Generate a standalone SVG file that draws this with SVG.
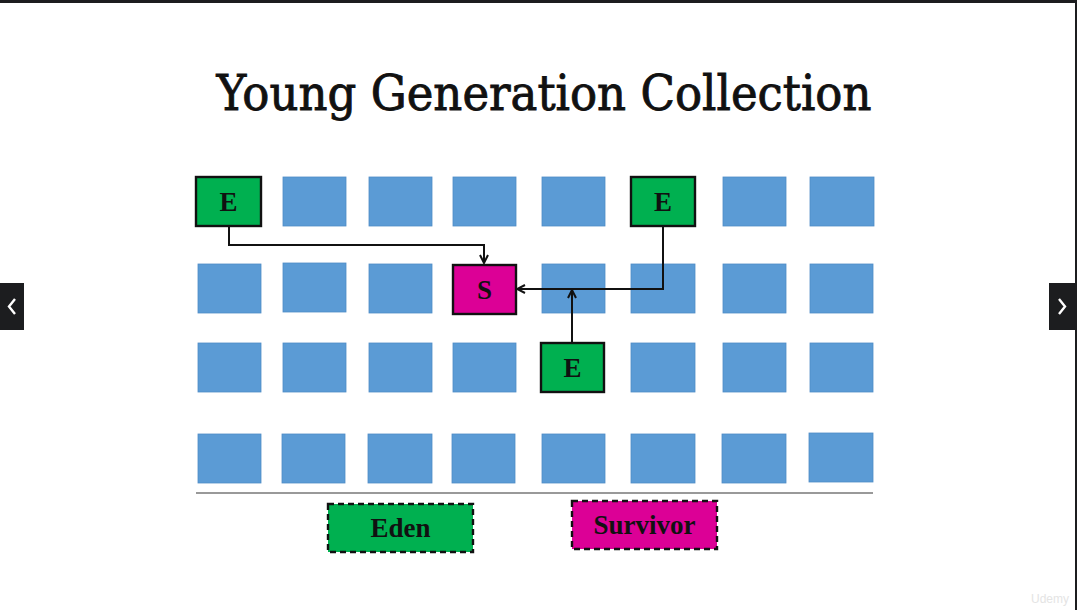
<svg xmlns="http://www.w3.org/2000/svg" width="1077" height="610" viewBox="0 0 1077 610">
<style>
.b{fill:#5B9BD5;stroke:#4F8CC6;stroke-width:0.8}
.e{fill:#00B050;stroke:#111;stroke-width:2.4}
.s{fill:#DC0096;stroke:#111;stroke-width:2.4}
.lbl{font-family:"Liberation Serif",serif;font-weight:bold;font-size:27px;fill:#111;text-anchor:middle}
.leg{font-family:"Liberation Serif",serif;font-weight:bold;font-size:27px;fill:#111;text-anchor:middle}
.dash{stroke-dasharray:6 4}
.c{fill:none;stroke:#111;stroke-width:2}
</style>
<defs>
<marker id="ah" viewBox="0 0 10 10" refX="9" refY="5" markerWidth="10" markerHeight="10" markerUnits="userSpaceOnUse" orient="auto">
<path d="M1,1 L9,5 L1,9" fill="none" stroke="#111" stroke-width="2"/>
</marker>
</defs>
<rect width="1077" height="610" fill="#fff"/>
<rect x="0" y="0" width="1077" height="3" fill="#1c1d1f"/>
<rect x="1075" y="0" width="2" height="610" fill="#1c1d1f"/>
<text x="544" y="110" font-family="'DejaVu Serif',serif" font-size="48" fill="#111" stroke="#111" stroke-width="0.9" textLength="655" lengthAdjust="spacingAndGlyphs" text-anchor="middle">Young Generation Collection</text>
<g id="grid">
<rect class="b" x="283" y="177" width="63" height="49"/>
<rect class="b" x="369" y="177" width="63" height="49"/>
<rect class="b" x="453" y="177" width="63" height="49"/>
<rect class="b" x="542" y="177" width="63" height="49"/>
<rect class="b" x="723" y="177" width="63" height="49"/>
<rect class="b" x="810" y="177" width="64" height="49"/>
<rect class="b" x="198" y="264" width="63" height="49"/>
<rect class="b" x="283" y="263" width="63" height="49"/>
<rect class="b" x="369" y="264" width="63" height="49"/>
<rect class="b" x="542" y="264" width="63" height="49"/>
<rect class="b" x="631" y="264" width="64" height="49"/>
<rect class="b" x="723" y="264" width="63" height="49"/>
<rect class="b" x="810" y="264" width="63" height="49"/>
<rect class="b" x="198" y="343" width="63" height="49"/>
<rect class="b" x="283" y="343" width="63" height="49"/>
<rect class="b" x="369" y="343" width="63" height="49"/>
<rect class="b" x="453" y="343" width="63" height="49"/>
<rect class="b" x="631" y="343" width="64" height="49"/>
<rect class="b" x="723" y="343" width="63" height="49"/>
<rect class="b" x="810" y="343" width="63" height="49"/>
<rect class="b" x="198" y="434" width="63" height="49"/>
<rect class="b" x="282" y="434" width="63" height="49"/>
<rect class="b" x="368" y="434" width="64" height="49"/>
<rect class="b" x="452" y="434" width="63" height="49"/>
<rect class="b" x="542" y="434" width="63" height="49"/>
<rect class="b" x="631" y="434" width="64" height="49"/>
<rect class="b" x="722" y="434" width="64" height="49"/>
<rect class="b" x="809" y="433" width="64" height="49"/>
</g>
<line x1="196" y1="493" x2="873" y2="493" stroke="#777" stroke-width="1.5"/>
<g id="connectors">
<path class="c" d="M229,226 V245 H484 V263" marker-end="url(#ah)"/>
<path class="c" d="M663,226 V289 H517" marker-end="url(#ah)"/>
<path class="c" d="M572,343 V290" marker-end="url(#ah)"/>
</g>
<g id="e1"><rect class="e" x="196" y="177" width="65" height="49"/><text class="lbl" x="228.5" y="211">E</text></g>
<g id="e2"><rect class="e" x="631" y="177" width="64" height="49"/><text class="lbl" x="663" y="211">E</text></g>
<g id="s"><rect class="s" x="453" y="265" width="63" height="49"/><text class="lbl" x="484.5" y="299">S</text></g>
<g id="e3"><rect class="e" x="541" y="343" width="63" height="49"/><text class="lbl" x="572.5" y="377">E</text></g>
<g id="legend-eden"><rect class="e dash" x="328" y="504" width="145" height="48"/><text class="leg" x="400.5" y="537">Eden</text></g>
<g id="legend-survivor"><rect class="s dash" x="572" y="501" width="145" height="48"/><text class="leg" x="644.5" y="534">Survivor</text></g>
<g id="nav-left"><rect x="0" y="283" width="24" height="47" fill="#1c1d1f"/><path d="M15,299 L9,306.5 L15,314" fill="none" stroke="#fff" stroke-width="2.4"/></g>
<g id="nav-right"><rect x="1049" y="283" width="28" height="47" fill="#1c1d1f"/><path d="M1059,299 L1065,306.5 L1059,314" fill="none" stroke="#fff" stroke-width="2.4"/></g>
<text x="1050" y="603" font-family="'Liberation Sans',sans-serif" font-size="12" fill="#e4e4e4" text-anchor="middle">Udemy</text>
</svg>
